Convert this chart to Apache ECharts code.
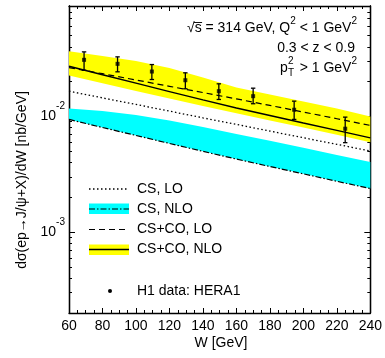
<!DOCTYPE html>
<html><head><meta charset="utf-8">
<script src="https://cdn.jsdelivr.net/npm/echarts@6/dist/echarts.min.js"></script>
<style>html,body{margin:0;padding:0;background:#fff}#c{width:385px;height:358px}</style>
</head><body><div id="c"></div>
<script>
// W grid for theory curves [GeV]
const wGrid = [60, 80, 100, 120, 140, 160, 180, 200, 220, 240];
// CS, LO (dotted)
const csLO = [0.01652, 0.01446, 0.01269, 0.01111, 0.00972, 0.00853, 0.00747, 0.00654, 0.00574, 0.00502];
// CS, NLO band (cyan): lower edge = dash-dot line, upper edge
const csNLOlow = [0.00942, 0.00802, 0.00685, 0.00584, 0.00499, 0.00428, 0.00369, 0.00319, 0.00275, 0.00238];
const csNLOhigh = [0.01172, 0.01115, 0.01030, 0.00924, 0.00812, 0.00706, 0.00615, 0.00535, 0.00465, 0.00404];
// CS+CO, LO (dashed)
const coLO = [0.02645, 0.02339, 0.02064, 0.01821, 0.01607, 0.01418, 0.01244, 0.01091, 0.00955, 0.00836];
// CS+CO, NLO (solid) and its band (yellow)
const coNLO = [0.02715, 0.02293, 0.01940, 0.01639, 0.01388, 0.01181, 0.01018, 0.00877, 0.00757, 0.00653];
const coNLOlow = [0.02256, 0.01937, 0.01662, 0.01427, 0.01229, 0.01063, 0.00924, 0.00802, 0.00693, 0.00597];
const coNLOhigh = [0.03654, 0.03322, 0.03009, 0.02619, 0.02169, 0.01778, 0.01547, 0.01347, 0.01172, 0.01000];
// H1 data: HERA1
const h1W = [69, 89, 109.5, 129.5, 149.5, 170, 194.5, 225];
const h1Val = [0.03083, 0.02847, 0.02443, 0.02055, 0.01652, 0.01496, 0.01142, 0.00783];
const h1Low = [0.02506, 0.02429, 0.02084, 0.01733, 0.01401, 0.01287, 0.00942, 0.00593];
const h1High = [0.03612, 0.03271, 0.02807, 0.02381, 0.01913, 0.01754, 0.01355, 0.00986];
// axes
const xMin = 60, xMax = 240, xStep = 20;
const yMin = 2e-4, yMax = 0.09;
const yMajorTicks = [1e-3, 1e-2];
const yMinorTicks = [3e-4, 4e-4, 5e-4, 6e-4, 7e-4, 8e-4, 9e-4, 2e-3, 3e-3, 4e-3, 5e-3, 6e-3, 7e-3, 8e-3, 9e-3, 2e-2, 3e-2, 4e-2, 5e-2, 6e-2, 7e-2, 8e-2, 9e-2];

const lg = Math.log10;
const FONT = 'Liberation Sans, Arial, Helvetica, sans-serif';
const chart = echarts.init(document.getElementById('c'), null, {renderer: 'canvas'});

function yAxisDef(pos, ticks, len, labels) {
  return {
    type: 'value', position: pos, min: lg(yMin), max: lg(yMax),
    axisLine: {show: true, lineStyle: {color: '#000', width: 1.3}},
    axisTick: {show: true, inside: true, length: len, customValues: ticks.map(lg), lineStyle: {color: '#000', width: 1}},
    axisLabel: labels ? {
      show: true, customValues: ticks.map(lg), margin: 4,
      formatter: v => '{b|10}{s|' + Math.round(v) + '}',
      rich: {
        b: {fontFamily: FONT, fontSize: 14, color: '#000', lineHeight: 30},
        s: {fontFamily: FONT, fontSize: 10, color: '#000', lineHeight: 10, verticalAlign: 'top'}
      }
    } : {show: false},
    splitLine: {show: false}
  };
}
function xAxisDef(pos, labels) {
  return {
    type: 'value', position: pos, min: xMin, max: xMax, interval: xStep,
    axisLine: {show: true, onZero: false, lineStyle: {color: '#000', width: 1.3}},
    axisTick: {show: true, inside: true, length: 5, lineStyle: {color: '#000', width: 1}},
    minorTick: {show: true, splitNumber: 4, length: 3, lineStyle: {color: '#000', width: 1}},
    axisLabel: labels ? {show: true, margin: 6, fontFamily: FONT, fontSize: 14, color: '#000'} : {show: false},
    splitLine: {show: false}
  };
}
function band(low, high, color) {
  return {
    type: 'custom', xAxisIndex: 0, yAxisIndex: 0, silent: true, clip: true, z: 1,
    data: wGrid.map((w, i) => [w, lg(low[i]), lg(high[i])]),
    encode: {x: 0, y: [1, 2]},
    renderItem: function (params, api) {
      if (params.dataIndex !== 0) return null;
      const pts = [];
      for (let i = 0; i < wGrid.length; i++) pts.push(api.coord([wGrid[i], lg(high[i])]));
      for (let i = wGrid.length - 1; i >= 0; i--) pts.push(api.coord([wGrid[i], lg(low[i])]));
      return {type: 'polygon', shape: {points: pts}, style: {fill: color}};
    }
  };
}
function curve(vals, dash, width) {
  return {
    type: 'line', xAxisIndex: 0, yAxisIndex: 0, silent: true, showSymbol: false, z: 3,
    data: wGrid.map((w, i) => [w, lg(vals[i])]),
    lineStyle: {color: '#000', width: width, type: dash}
  };
}

const txt = (x, y, text, size, align) => ({type: 'text', x: x, y: y,
  style: {text: text, font: size + 'px ' + FONT, fill: '#000', align: align || 'left', verticalAlign: 'middle'}});

const option = {
  backgroundColor: '#fff',
  animation: false,
  grid: {left: 69, right: 11, top: 6, bottom: 45, containLabel: false},
  xAxis: [xAxisDef('bottom', true), xAxisDef('top', false)],
  yAxis: [
    yAxisDef('left', yMajorTicks, 6, true),
    yAxisDef('left', yMinorTicks, 3, false),
    yAxisDef('right', yMajorTicks, 6, false),
    yAxisDef('right', yMinorTicks, 3, false)
  ],
  series: [
    band(coNLOlow, coNLOhigh, '#ffff00'),
    band(csNLOlow, csNLOhigh, '#00ffff'),
    curve(csLO, [1.5, 2.5], 1.3),
    curve(csNLOlow, [6, 2, 1.5, 2], 1.2),
    curve(coLO, [6, 4], 1.2),
    curve(coNLO, 'solid', 1.4),
    {
      type: 'custom', xAxisIndex: 0, yAxisIndex: 0, silent: true, z: 5,
      data: h1W.map((w, i) => [w, lg(h1Low[i]), lg(h1High[i])]),
      encode: {x: 0, y: [1, 2]},
      renderItem: function (params, api) {
        const a = api.coord([api.value(0), api.value(2)]);
        const b = api.coord([api.value(0), api.value(1)]);
        const st = {stroke: '#000', lineWidth: 1.3};
        return {type: 'group', children: [
          {type: 'line', shape: {x1: a[0], y1: a[1], x2: b[0], y2: b[1]}, style: st},
          {type: 'line', shape: {x1: a[0] - 2.2, y1: a[1], x2: a[0] + 2.2, y2: a[1]}, style: st},
          {type: 'line', shape: {x1: b[0] - 2.2, y1: b[1], x2: b[0] + 2.2, y2: b[1]}, style: st}
        ]};
      }
    },
    {
      type: 'scatter', xAxisIndex: 0, yAxisIndex: 0, silent: true, z: 6,
      symbol: 'rect', symbolSize: 4,
      itemStyle: {color: '#000'},
      data: h1W.map((w, i) => [w, lg(h1Val[i])])
    }
  ],
  graphic: [
    // y axis title
    {type: 'text', x: 22, y: 180, rotation: Math.PI / 2,
      style: {text: 'dσ(ep→J/ψ+X)/dW [nb/GeV]', font: '14px ' + FONT, fill: '#000', align: 'center', verticalAlign: 'middle'}},
    txt(221, 343, 'W [GeV]', 14, 'center'),
    // annotation
    {type: 'text', x: 357, y: 28,
      style: {text: '{n|√s̅ = 314 GeV, Q}{s|2}{n| < 1 GeV}{s|2}', align: 'right', verticalAlign: 'middle',
        rich: {n: {font: '14px ' + FONT, fill: '#000', lineHeight: 24}, s: {font: '10px ' + FONT, fill: '#000', lineHeight: 10, verticalAlign: 'top'}}}},
    txt(355, 48, '0.3 < z < 0.9', 14, 'right'),
    {type: 'text', x: 357, y: 68,
      style: {text: '{n|> 1 GeV}{s|2}', align: 'right', verticalAlign: 'middle',
        rich: {n: {font: '14px ' + FONT, fill: '#000', lineHeight: 24}, s: {font: '10px ' + FONT, fill: '#000', lineHeight: 10, verticalAlign: 'top'}}}},
    txt(280, 68, 'p', 14, 'left'),
    txt(288, 73, 'T', 10, 'left'),
    txt(288, 61, '2', 10, 'left'),
    // legend
    {type: 'line', shape: {x1: 89, y1: 189, x2: 129, y2: 189}, style: {stroke: '#000', lineWidth: 1.3, lineDash: [1.5, 2.5]}},
    txt(137, 189, 'CS, LO', 14),
    {type: 'rect', shape: {x: 89, y: 203.5, width: 40, height: 10.5}, style: {fill: '#00ffff'}},
    {type: 'line', shape: {x1: 89, y1: 209, x2: 129, y2: 209}, style: {stroke: '#000', lineWidth: 1.2, lineDash: [6, 2, 1.5, 2]}},
    txt(137, 209, 'CS, NLO', 14),
    {type: 'line', shape: {x1: 89, y1: 229.5, x2: 129, y2: 229.5}, style: {stroke: '#000', lineWidth: 1.2, lineDash: [6, 4]}},
    txt(137, 229.5, 'CS+CO, LO', 14),
    {type: 'rect', shape: {x: 89, y: 244.5, width: 40, height: 10.5}, style: {fill: '#ffff00'}},
    {type: 'line', shape: {x1: 89, y1: 249.5, x2: 129, y2: 249.5}, style: {stroke: '#000', lineWidth: 1.4}},
    txt(137, 249.5, 'CS+CO, NLO', 14),
    {type: 'circle', shape: {cx: 110, cy: 291, r: 2}, style: {fill: '#000'}},
    txt(137, 291, 'H1 data: HERA1', 14)
  ]
};
chart.setOption(option);
</script>
</body></html>
